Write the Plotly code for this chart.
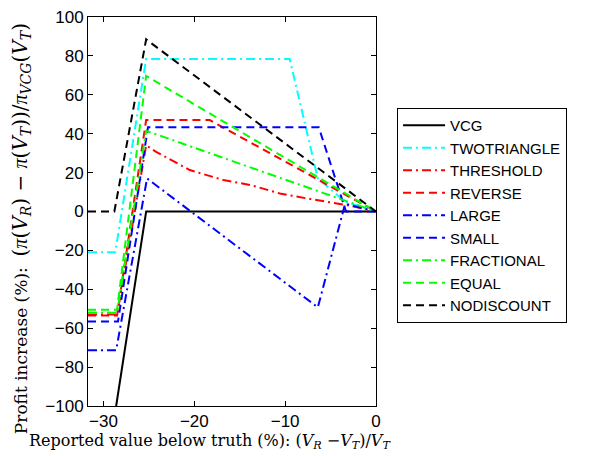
import plotly.graph_objects as go

# ---- data ----
series_names = ["VCG", "TWOTRIANGLE", "THRESHOLD", "REVERSE", "LARGE",
                "SMALL", "FRACTIONAL", "EQUAL", "NODISCOUNT"]

vcg_x = [-28.6, -25.3, 0]
vcg_y = [-100, 0, 0]

twotriangle_x = [-31.7, -28.7, -25.3, -9.5, -6.4, -3.4, 0]
twotriangle_y = [-21, -21, 78.4, 78.4, 17, 5, 0]

threshold_x = [-31.7, -28.5, -25.3, -24.2, -20.5, -16.8, -13.8, -10.6, -7.1, -3.2, 0]
threshold_y = [-53, -53, 34, 30.7, 21.3, 16.2, 13.6, 9.3, 6.3, 3.3, 0]

reverse_x = [-31.7, -28.5, -25.3, -18.3, 0]
reverse_y = [-53.5, -53.5, 47, 47, 0]

large_x = [-31.7, -28.6, -25.2, -6.4, -3.4, 0]
large_y = [-71.3, -71.3, 17, -49.3, 4, 0]

small_x = [-31.7, -28.4, -25.1, -6.3, -3.3, 0]
small_y = [-56.6, -56.6, 43.3, 43.3, 0, 0]

fractional_x = [-31.7, -28.5, -25.3, 0]
fractional_y = [-52, -52, 41.5, 0]

equal_x = [-31.7, -28.5, -25.3, 0]
equal_y = [-50.5, -50.5, 69.7, 0]

nodiscount_x = [-31.7, -28.8, -25.3, 0]
nodiscount_y = [0, 0, 88.5, 0]

x_ticks = [-30, -20, -10, 0]
y_ticks = [-100, -80, -60, -40, -20, 0, 20, 40, 60, 80, 100]

# ---- styles ----
DASH = "8px,5px"
DASHDOT = "9px,4px,2px,4px"
styles = {
    "VCG": ("black", "solid"),
    "TWOTRIANGLE": ("#00FFFF", DASHDOT),
    "THRESHOLD": ("#FF0000", DASHDOT),
    "REVERSE": ("#FF0000", DASH),
    "LARGE": ("#0000FF", DASHDOT),
    "SMALL": ("#0000FF", DASH),
    "FRACTIONAL": ("#00FF00", DASHDOT),
    "EQUAL": ("#00FF00", DASH),
    "NODISCOUNT": ("black", DASH),
}

data = {
    "VCG": (vcg_x, vcg_y),
    "TWOTRIANGLE": (twotriangle_x, twotriangle_y),
    "THRESHOLD": (threshold_x, threshold_y),
    "REVERSE": (reverse_x, reverse_y),
    "LARGE": (large_x, large_y),
    "SMALL": (small_x, small_y),
    "FRACTIONAL": (fractional_x, fractional_y),
    "EQUAL": (equal_x, equal_y),
    "NODISCOUNT": (nodiscount_x, nodiscount_y),
}

fig = go.Figure()
for name in series_names:
    xs, ys = data[name]
    color, dash = styles[name]
    fig.add_trace(go.Scatter(x=xs, y=ys, mode="lines", name=name,
                             line=dict(color=color, width=2, dash=dash)))

SANS = "Liberation Sans, Arial, sans-serif"
SERIF = "DejaVu Serif, Liberation Serif, serif"

axis_common = dict(showgrid=False, zeroline=False, showline=True, linecolor="black",
                   linewidth=1, mirror="ticks", ticks="inside", ticklen=5,
                   tickcolor="black", tickwidth=1, automargin=False,
                   ticklabeloverflow="allow",
                   tickfont=dict(family=SANS, size=17, color="black"))

# the page body has an 8px margin, so the figure is 8px smaller than the window
fig.update_layout(
    width=584, height=448,
    margin=dict(l=80, r=216, t=9, b=50),
    paper_bgcolor="white", plot_bgcolor="white",
    xaxis=dict(range=[-31.7, 0], tickvals=x_ticks, **axis_common),
    yaxis=dict(range=[-100, 100], tickvals=y_ticks, **axis_common),
    legend=dict(x=1.073, y=0.766, xanchor="left", yanchor="top",
                bordercolor="black", borderwidth=1, bgcolor="white",
                font=dict(family=SANS, size=15, color="black"),
                itemwidth=42, tracegroupgap=0),
    showlegend=True,
)

PI = "<span style=\"font-family:'Liberation Serif'\"><i>\u03c0</i></span>"

fig.add_annotation(
    text="Reported value below truth (%): (<i>V</i><sub><i>R</i></sub> \u2212<i>V</i><sub><i>T</i></sub>)/<i>V</i><sub><i>T</i></sub>",
    xref="paper", yref="paper", x=0.425, y=-0.092, xanchor="center", yanchor="middle",
    showarrow=False, font=dict(family=SERIF, size=16, color="black"))

fig.add_annotation(
    text=("Profit increase (%):  <span style=\"font-size:20px\">(" + PI +
          "(<i>V</i><sub><i>R</i></sub>) \u2212 " + PI +
          "(<i>V</i><sub><i>T</i></sub>))/" + PI +
          "<sub><i>VCG</i></sub>(<i>V</i><sub><i>T</i></sub>)</span>"),
    xref="paper", yref="paper", x=-0.232, y=0.455, xanchor="center", yanchor="middle",
    textangle=-90, showarrow=False, font=dict(family=SERIF, size=17, color="black"))

fig.write_html("out.html")
